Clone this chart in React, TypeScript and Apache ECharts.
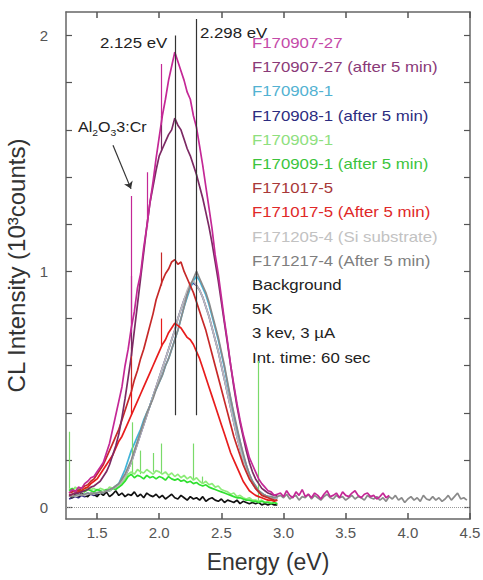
import React, { useEffect, useRef } from "react";
import * as echarts from "echarts";

// Energy grid (eV) for the main spectra
const energies = [
  1.275, 1.3, 1.325, 1.35, 1.375, 1.4, 1.425, 1.45, 1.475, 1.5,
  1.525, 1.55, 1.575, 1.6, 1.625, 1.65, 1.675, 1.7, 1.725, 1.75,
  1.775, 1.8, 1.825, 1.85, 1.875, 1.9, 1.925, 1.95, 1.975, 2.0,
  2.025, 2.05, 2.075, 2.1, 2.125, 2.15, 2.175, 2.2, 2.225, 2.25,
  2.275, 2.3, 2.325, 2.35, 2.375, 2.4, 2.425, 2.45, 2.475, 2.5,
  2.525, 2.55, 2.575, 2.6, 2.625, 2.65, 2.675, 2.7, 2.725, 2.75,
  2.775, 2.8, 2.825, 2.85, 2.875, 2.9, 2.925, 2.95,
];

// Energy grid for the high-energy tails
const tailEnergies = [
  2.975, 3.0, 3.025, 3.05, 3.075, 3.1, 3.125, 3.15, 3.175, 3.2,
  3.225, 3.25, 3.275, 3.3, 3.325, 3.35, 3.375, 3.4, 3.425, 3.45,
  3.475, 3.5, 3.525, 3.55, 3.575, 3.6, 3.625, 3.65, 3.675, 3.7,
  3.725, 3.75, 3.775, 3.8, 3.825, 3.85, 3.875, 3.9, 3.925, 3.95,
  3.975, 4.0, 4.025, 4.05, 4.075, 4.1, 4.125, 4.15, 4.175, 4.2,
  4.225, 4.25, 4.275, 4.3, 4.325, 4.35, 4.375, 4.4, 4.425, 4.45,
  4.475,
];

// CL intensity (10^3 counts)
const f170907_27 = [
  0.06, 0.075, 0.065, 0.085, 0.08, 0.1, 0.11, 0.125, 0.13, 0.15,
  0.17, 0.19, 0.23, 0.27, 0.33, 0.39, 0.45, 0.51, 0.6, 0.67,
  0.76, 0.83, 0.93, 0.99, 1.1, 1.19, 1.29, 1.38, 1.48, 1.57,
  1.66, 1.73, 1.81, 1.87, 1.93, 1.89, 1.85, 1.81, 1.76, 1.73,
  1.66, 1.61, 1.53, 1.45, 1.36, 1.27, 1.18, 1.07, 0.99, 0.89,
  0.79, 0.7, 0.6, 0.52, 0.44, 0.37, 0.31, 0.26, 0.21, 0.18,
  0.15, 0.12, 0.1, 0.085, 0.07, 0.065, 0.05, 0.055,
];
const f170907_27Tail = [
  0.06, 0.045, 0.07, 0.05, 0.04, 0.065, 0.05, 0.075, 0.045, 0.055,
  0.04, 0.06, 0.05, 0.035, 0.055, 0.07, 0.045, 0.05, 0.06, 0.04,
  0.065, 0.05, 0.045, 0.06, 0.07, 0.05, 0.04, 0.055, 0.06, 0.045,
  0.05, 0.035, 0.045, 0.06, 0.04, 0.05,
];
const f170907_27After = [
  0.05, 0.055, 0.06, 0.06, 0.065, 0.07, 0.075, 0.085, 0.09, 0.1,
  0.11, 0.13, 0.15, 0.18, 0.22, 0.26, 0.31, 0.38, 0.46, 0.55,
  0.64, 0.75, 0.86, 0.97, 1.08, 1.19, 1.29, 1.36, 1.43, 1.49,
  1.52, 1.55, 1.58, 1.6, 1.65, 1.62, 1.6, 1.56, 1.52, 1.49,
  1.45, 1.41, 1.36, 1.31, 1.25, 1.19, 1.12, 1.04, 0.96, 0.87,
  0.78, 0.69, 0.6, 0.51, 0.43, 0.36, 0.3, 0.24, 0.19, 0.15,
  0.12, 0.1, 0.08, 0.07, 0.06, 0.055, 0.05, 0.05,
];
const f170908_1 = [
  0.05, 0.045, 0.05, 0.055, 0.05, 0.055, 0.06, 0.055, 0.06, 0.06,
  0.065, 0.06, 0.07, 0.075, 0.08, 0.09, 0.1, 0.13, 0.16, 0.2,
  0.24, 0.27, 0.3, 0.33, 0.37, 0.4, 0.43, 0.47, 0.5, 0.53,
  0.56, 0.6, 0.63, 0.67, 0.71, 0.75, 0.8, 0.85, 0.89, 0.93,
  0.96, 0.98, 0.96, 0.93, 0.9, 0.86, 0.81, 0.76, 0.71, 0.65,
  0.59, 0.52, 0.46, 0.39, 0.33, 0.28, 0.22, 0.18, 0.14, 0.11,
  0.09, 0.07, 0.06, 0.05, 0.045, 0.045, 0.04, 0.04,
];
const f170908_1After = [
  0.035, 0.04, 0.045, 0.04, 0.05, 0.045, 0.05, 0.055, 0.05, 0.055,
  0.06, 0.065, 0.07, 0.07, 0.08, 0.085, 0.095, 0.11, 0.13, 0.16,
  0.19, 0.23, 0.27, 0.31, 0.35, 0.39, 0.43, 0.47, 0.51, 0.55,
  0.59, 0.63, 0.67, 0.71, 0.75, 0.8, 0.84, 0.88, 0.91, 0.94,
  0.95, 0.94, 0.92, 0.89, 0.85, 0.81, 0.76, 0.71, 0.66, 0.6,
  0.54, 0.48, 0.42, 0.36, 0.3, 0.25, 0.2, 0.16, 0.13, 0.1,
  0.08, 0.065, 0.055, 0.05, 0.045, 0.04, 0.04, 0.04,
];
const f170909_1 = [
  0.08, 0.07, 0.085, 0.075, 0.08, 0.07, 0.085, 0.075, 0.08, 0.07,
  0.08, 0.075, 0.07, 0.085, 0.08, 0.09, 0.085, 0.1, 0.12, 0.14,
  0.15, 0.14, 0.16, 0.15, 0.145, 0.16, 0.15, 0.14, 0.155, 0.15,
  0.14, 0.15, 0.135, 0.145, 0.13, 0.14, 0.125, 0.135, 0.12, 0.13,
  0.115, 0.125, 0.11, 0.1, 0.11, 0.095, 0.1, 0.085, 0.09, 0.075,
  0.07, 0.065, 0.055, 0.06, 0.045, 0.05, 0.04, 0.035, 0.04, 0.03,
  0.03, 0.025, 0.03, 0.02, 0.025, 0.02, 0.02, 0.015,
];
const f170909_1After = [
  0.07, 0.08, 0.065, 0.075, 0.07, 0.065, 0.075, 0.07, 0.065, 0.075,
  0.07, 0.065, 0.075, 0.07, 0.08, 0.075, 0.085, 0.095, 0.11, 0.13,
  0.14, 0.125, 0.135, 0.13, 0.12, 0.135, 0.125, 0.13, 0.12, 0.13,
  0.125, 0.115, 0.13, 0.12, 0.115, 0.12, 0.11, 0.115, 0.105, 0.11,
  0.1, 0.105, 0.095, 0.09, 0.095, 0.085, 0.08, 0.075, 0.07, 0.065,
  0.06, 0.055, 0.05, 0.045, 0.04, 0.04, 0.035, 0.03, 0.03, 0.025,
  0.025, 0.02, 0.025, 0.02, 0.02, 0.015, 0.02, 0.015,
];
const f171017_5 = [
  0.06, 0.065, 0.07, 0.07, 0.08, 0.09, 0.095, 0.11, 0.12, 0.14,
  0.16, 0.18, 0.21, 0.24, 0.27, 0.3, 0.33, 0.37, 0.41, 0.45,
  0.49, 0.54, 0.58, 0.63, 0.67, 0.72, 0.77, 0.82, 0.88, 0.92,
  0.96, 0.99, 1.01, 1.04, 1.05, 1.03, 1.04, 1.0, 0.97, 0.94,
  0.91, 0.87, 0.83, 0.79, 0.75, 0.7, 0.65, 0.6, 0.55, 0.5,
  0.45, 0.4, 0.35, 0.3, 0.26, 0.22, 0.18, 0.15, 0.12, 0.1,
  0.08, 0.065, 0.05, 0.045, 0.04, 0.035, 0.03, 0.03,
];
const f171017_5After = [
  0.05, 0.055, 0.06, 0.065, 0.07, 0.08, 0.085, 0.1, 0.11, 0.12,
  0.14, 0.16, 0.18, 0.2, 0.22, 0.25, 0.28, 0.3, 0.33, 0.36,
  0.39, 0.42, 0.45, 0.48, 0.51, 0.54, 0.57, 0.6, 0.63, 0.66,
  0.69, 0.71, 0.74, 0.76, 0.78, 0.77, 0.76, 0.74, 0.72, 0.71,
  0.69, 0.66, 0.63, 0.59, 0.55, 0.51, 0.47, 0.43, 0.39, 0.35,
  0.31, 0.27, 0.23, 0.2, 0.17, 0.14, 0.11, 0.09, 0.07, 0.06,
  0.05, 0.045, 0.04, 0.035, 0.03, 0.03, 0.025, 0.03,
];
const f171205_4 = [
  0.045, 0.05, 0.045, 0.05, 0.055, 0.05, 0.055, 0.06, 0.055, 0.06,
  0.06, 0.065, 0.07, 0.07, 0.08, 0.085, 0.095, 0.11, 0.13, 0.16,
  0.19, 0.23, 0.27, 0.31, 0.35, 0.39, 0.43, 0.47, 0.51, 0.55,
  0.59, 0.63, 0.67, 0.71, 0.75, 0.8, 0.84, 0.88, 0.92, 0.95,
  0.96, 0.94, 0.92, 0.89, 0.85, 0.81, 0.76, 0.71, 0.66, 0.6,
  0.54, 0.48, 0.42, 0.36, 0.3, 0.25, 0.2, 0.16, 0.13, 0.1,
  0.08, 0.065, 0.055, 0.05, 0.045, 0.04, 0.04, 0.04,
];
const f171217_4After = [
  0.05, 0.045, 0.05, 0.055, 0.05, 0.055, 0.06, 0.055, 0.06, 0.06,
  0.065, 0.06, 0.07, 0.075, 0.08, 0.09, 0.1, 0.12, 0.14, 0.17,
  0.2, 0.24, 0.28, 0.32, 0.36, 0.4, 0.43, 0.46, 0.5, 0.53,
  0.56, 0.6, 0.63, 0.67, 0.71, 0.75, 0.8, 0.85, 0.9, 0.94,
  0.97, 1.0, 0.97, 0.94, 0.91, 0.87, 0.82, 0.77, 0.72, 0.66,
  0.6, 0.53, 0.46, 0.4, 0.34, 0.28, 0.23, 0.18, 0.14, 0.11,
  0.09, 0.07, 0.06, 0.05, 0.045, 0.045, 0.04, 0.045,
];
const f171217_4AfterTail = [
  0.05, 0.04, 0.055, 0.035, 0.045, 0.05, 0.03, 0.045, 0.04, 0.055,
  0.035, 0.05, 0.04, 0.03, 0.045, 0.055, 0.04, 0.035, 0.05, 0.04,
  0.045, 0.03, 0.04, 0.05, 0.035, 0.045, 0.04, 0.03, 0.05, 0.04,
  0.035, 0.045, 0.03, 0.04, 0.025, 0.045, 0.035, 0.05, 0.03, 0.04,
  0.02, 0.035, 0.045, 0.03, 0.04, 0.025, 0.05, 0.035, 0.03, 0.045,
  0.03, 0.04, 0.025, 0.035, 0.05, 0.03, 0.045, 0.06, 0.035, 0.04,
  0.03,
];
const background = [
  0.05, 0.04, 0.055, 0.045, 0.06, 0.05, 0.045, 0.06, 0.055, 0.045,
  0.06, 0.05, 0.065, 0.045, 0.055, 0.07, 0.05, 0.06, 0.045, 0.055,
  0.05, 0.065, 0.045, 0.055, 0.04, 0.06, 0.05, 0.045, 0.055, 0.04,
  0.05, 0.035, 0.045, 0.055, 0.04, 0.035, 0.05, 0.04, 0.03, 0.045,
  0.035, 0.04, 0.03, 0.045, 0.025, 0.035, 0.04, 0.03, 0.025, 0.035,
  0.02, 0.03, 0.025, 0.02, 0.03, 0.015, 0.025, 0.02, 0.015, 0.02,
  0.015, 0.02, 0.01, 0.015, 0.01, 0.015, 0.01, 0.01,
];

// Narrow emission spikes: [energy, base, top]
const greenSpikes = [
  [1.28, 0.08, 0.32], [1.78, 0.14, 0.36], [1.845, 0.14, 0.24], [1.95, 0.15, 0.23],
  [2.02, 0.14, 0.27], [2.27, 0.12, 0.27], [2.35, 0.1, 0.13], [2.8, 0.025, 0.62],
];
const magentaSpikes = [[1.773, 0.74, 1.32], [1.9, 1.19, 1.42], [2.02, 1.62, 1.88]];
const purpleSpikes = [[1.775, 0.64, 0.98], [2.02, 1.51, 1.66]];
const redSpikes = [[1.775, 0.49, 0.68], [2.02, 0.94, 1.08]];
const redAfterSpikes = [[1.775, 0.39, 0.55], [2.02, 0.68, 0.8]];

// Peak markers: [energy, bottom, top, label]
const peakMarks: [number, number, number, string][] = [
  [2.125, 0.39, 2.0, "2.125 eV"],
  [2.298, 0.39, 2.07, "2.298 eV"],
];
const arrowFrom = [1.628, 1.535];
const arrowTo = [1.773, 1.35];

const legendNames = [
  "F170907-27",
  "F170907-27 (after 5 min)",
  "F170908-1",
  "F170908-1 (after 5 min)",
  "F170909-1",
  "F170909-1 (after 5 min)",
  "F171017-5",
  "F171017-5 (After 5 min)",
  "F171205-4 (Si substrate)",
  "F171217-4 (After 5 min)",
  "Background",
];
const legendColors = [
  "#c44aa8", "#8a3a78", "#52b2d2", "#2c2c80", "#8ee07e", "#3cc43c",
  "#a83838", "#e02828", "#c2c2c2", "#7e7e7e", "#222222",
];
const lineColors = [
  "#c42896", "#7c2a64", "#40b4d8", "#3a2a8a", "#8eec7a", "#30e030",
  "#c62828", "#e81c1c", "#bcbcbc", "#8a8a8a", "#111111",
];
const noteLines = ["5K", "3 kev, 3 µA", "Int. time: 60 sec"];

const xTicks = [1.5, 2.0, 2.5, 3.0, 3.5, 4.0, 4.5];
const yTicks = [0, 0.2, 0.4, 0.6, 0.8, 1.0, 1.2, 1.4, 1.6, 1.8, 2.0];
const yLabels = [0, 1, 2];

const FONT = "'Liberation Sans', Arial, Helvetica, sans-serif";

function pairs(xs: number[], ys: number[]) {
  return ys.map((v, i) => [xs[i], v]);
}

function spikeSeries(spikes: number[][], color: string, z: number) {
  return {
    type: "lines",
    coordinateSystem: "cartesian2d",
    silent: true,
    z,
    lineStyle: { color, width: 1.2, opacity: 1 },
    data: spikes.map((s) => ({ coords: [[s[0], s[1]], [s[0], s[2]]] })),
  };
}

export default function App() {
  const ref = useRef<HTMLDivElement>(null);

  useEffect(() => {
    document.body.style.margin = "0";
    if (!ref.current) return;
    const chart = echarts.init(ref.current, undefined, { renderer: "svg" });

    const mainSets = [
      f170907_27, f170907_27After, f170908_1, f170908_1After, f170909_1, f170909_1After,
      f171017_5, f171017_5After, f171205_4, f171217_4After, background,
    ];
    // drawing order (bottom to top)
    const order = [3, 2, 10, 4, 5, 8, 9, 7, 6, 1, 0];

    const lineSeries: any[] = order.map((idx, k) => {
      let data = pairs(energies, mainSets[idx]);
      if (idx === 0) data = data.concat(pairs(tailEnergies, f170907_27Tail));
      if (idx === 9) data = data.concat(pairs(tailEnergies, f171217_4AfterTail));
      return {
        name: legendNames[idx],
        type: "line",
        data,
        showSymbol: false,
        symbol: "none",
        silent: true,
        z: 3 + k,
        lineStyle: { color: lineColors[idx], width: 1.7 },
      };
    });

    const legendGraphics = legendNames.map((name, i) => ({
      type: "text",
      x: 252,
      y: 43 + i * 24.2,
      scaleX: 1.2,
      silent: true,
      style: {
        text: name,
        fill: legendColors[i],
        fontSize: 14,
        fontFamily: FONT,
        align: "left",
        verticalAlign: "middle",
      },
    }));
    const noteGraphics = noteLines.map((t, i) => ({
      type: "text",
      x: 252,
      y: 43 + (legendNames.length + i) * 24.2,
      scaleX: 1.2,
      silent: true,
      style: {
        text: t,
        fill: "#222",
        fontSize: 14,
        fontFamily: FONT,
        align: "left",
        verticalAlign: "middle",
      },
    }));

    const option: any = {
      animation: false,
      backgroundColor: "#ffffff",
      grid: { left: 66, right: 13, top: 12, bottom: 61, outerBoundsMode: "none" },
      xAxis: [
        {
          type: "value",
          min: 1.25,
          max: 4.5,
          position: "bottom",
          name: "Energy (eV)",
          nameLocation: "middle",
          nameGap: 31,
          nameTextStyle: { fontSize: 23, color: "#333", fontFamily: FONT },
          axisLine: { show: true, onZero: false, lineStyle: { color: "#666", width: 1.5 } },
          axisTick: { show: true, inside: true, length: 6, customValues: xTicks, lineStyle: { color: "#555", width: 1.5 } },
          axisLabel: {
            customValues: xTicks,
            margin: 6,
            fontSize: 15,
            color: "#555",
            fontFamily: FONT,
            formatter: (v: number) => v.toFixed(1),
          },
          splitLine: { show: false },
        },
        {
          type: "value",
          min: 1.25,
          max: 4.5,
          position: "top",
          axisLine: { show: true, onZero: false, lineStyle: { color: "#666", width: 1.5 } },
          axisTick: { show: true, inside: true, length: 6, customValues: xTicks, lineStyle: { color: "#555", width: 1.5 } },
          axisLabel: { show: false },
          splitLine: { show: false },
        },
      ],
      yAxis: [
        {
          type: "value",
          min: -0.05,
          max: 2.1,
          position: "left",
          name: "CL Intensity (10³counts)",
          nameLocation: "middle",
          nameGap: 28,
          nameTextStyle: { fontSize: 24, color: "#333", fontFamily: FONT },
          axisLine: { show: true, onZero: false, lineStyle: { color: "#666", width: 1.5 } },
          axisTick: { show: true, inside: true, length: 6, customValues: yTicks, lineStyle: { color: "#555", width: 1.2 } },
          axisLabel: {
            customValues: yLabels,
            margin: 18,
            fontSize: 15,
            color: "#555",
            fontFamily: FONT,
            formatter: (v: number) => String(Math.round(v)),
          },
          splitLine: { show: false },
        },
        {
          type: "value",
          min: -0.05,
          max: 2.1,
          position: "right",
          axisLine: { show: true, onZero: false, lineStyle: { color: "#666", width: 1.5 } },
          axisTick: { show: true, inside: true, length: 6, customValues: yTicks, lineStyle: { color: "#555", width: 1.2 } },
          axisLabel: { show: false },
          splitLine: { show: false },
        },
      ],
      series: [
        {
          type: "lines",
          coordinateSystem: "cartesian2d",
          silent: true,
          z: 1,
          lineStyle: { color: "#999", width: 1, type: "dotted", opacity: 1 },
          data: [{ coords: [[1.25, 0], [4.5, 0]] }],
        },
        ...lineSeries,
        spikeSeries(greenSpikes, "#7ada6a", 6),
        spikeSeries(redAfterSpikes, lineColors[7], 15),
        spikeSeries(redSpikes, lineColors[6], 15),
        spikeSeries(purpleSpikes, lineColors[1], 15),
        spikeSeries(magentaSpikes, lineColors[0], 15),
        {
          type: "lines",
          coordinateSystem: "cartesian2d",
          silent: true,
          z: 20,
          lineStyle: { color: "#333", width: 1.2, opacity: 1 },
          data: peakMarks.map((p) => ({ coords: [[p[0], p[1]], [p[0], p[2]]] })),
        },
        {
          type: "lines",
          coordinateSystem: "cartesian2d",
          silent: true,
          z: 20,
          symbol: ["none", "arrow"],
          symbolSize: 7,
          lineStyle: { color: "#333", width: 1.2, opacity: 1 },
          data: [{ coords: [arrowFrom, arrowTo] }],
        },
      ],
      graphic: [
        ...legendGraphics,
        ...noteGraphics,
        {
          type: "text",
          x: 100,
          y: 43,
          scaleX: 1.2,
          silent: true,
          style: { text: peakMarks[0][3], fill: "#222", fontSize: 14, fontFamily: FONT, align: "left", verticalAlign: "middle" },
        },
        {
          type: "text",
          x: 200,
          y: 33,
          scaleX: 1.2,
          silent: true,
          style: { text: peakMarks[1][3], fill: "#222", fontSize: 14, fontFamily: FONT, align: "left", verticalAlign: "middle" },
        },
        {
          type: "text",
          x: 78,
          y: 127,
          scaleX: 1.15,
          silent: true,
          style: {
            text: "Al{s|2}O{s|3}3:Cr",
            fill: "#222",
            fontSize: 14,
            fontFamily: FONT,
            align: "left",
            verticalAlign: "middle",
            lineHeight: 20,
            rich: {
              s: { fontSize: 9, fontFamily: FONT, fill: "#222", lineHeight: 9, verticalAlign: "bottom" },
            },
          },
        },
      ],
    };

    chart.setOption(option);
    return () => chart.dispose();
  }, []);

  return <div ref={ref} style={{ width: 483, height: 580 }} />;
}
